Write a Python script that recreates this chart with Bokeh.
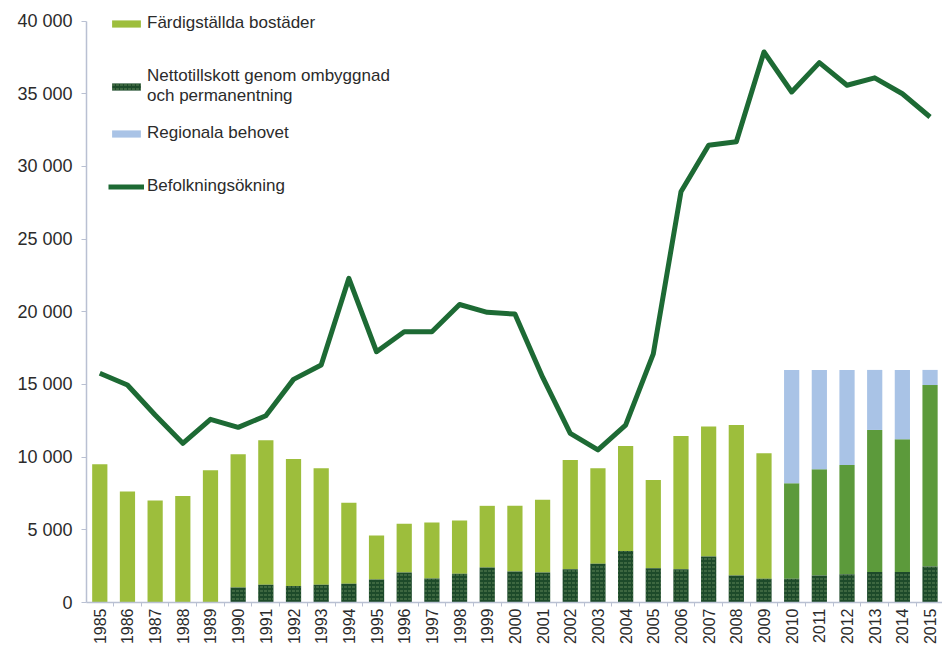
from bokeh.plotting import figure
from bokeh.models import ColumnDataSource, Range1d, FixedTicker, Legend, LegendItem
from bokeh.embed import file_html
from bokeh.resources import INLINE

years = list(range(1985, 2016))
year_labels = [str(y) for y in years]

# Nettotillskott genom ombyggnad och permanentning (dark bottom segment)
netto = [0, 0, 0, 0, 0, 1030, 1220, 1130, 1220, 1290, 1580, 2060, 1650, 1970, 2410,
         2130, 2060, 2290, 2660, 3550, 2360, 2290, 3160, 1860, 1630,
         1630, 1860, 1950, 2090, 2090, 2470]
# Färdigställda bostäder (green segment above)
fardig = [9510, 7630, 7010, 7330, 9100, 9170, 9940, 8750, 8020, 5580, 3030, 3350, 3850, 3670, 4240,
          4520, 5000, 7520, 6580, 7220, 6070, 9170, 8940, 10350, 8640,
          6570, 7310, 7510, 9780, 9140, 12490]
# Regionala behovet (2010-2015)
reg_years = [2010, 2011, 2012, 2013, 2014, 2015]
regional = [16000, 16000, 16000, 16000, 16000, 16000]
# Befolkningsökning
befolkning = [15770, 14960, 12900, 10950, 12600, 12050, 12850, 15350, 16340, 22300,
              17250, 18630, 18630, 20500, 19960, 19840, 15500, 11640, 10500, 12200,
              17100, 28250, 31450, 31700, 37870, 35120, 37140, 35580, 36090, 35000, 33400]

y_ticks = [0, 5000, 10000, 15000, 20000, 25000, 30000, 35000, 40000]

FONT = "Liberation Sans"
TXT = "#2b2b2b"
AX = "#b9c0d2"

split = years.index(2010)
top_all = [n + f for n, f in zip(netto, fardig)]

src_old = ColumnDataSource(dict(x=years[:split], bottom=netto[:split], top=top_all[:split]))
src_new = ColumnDataSource(dict(x=years[split:], bottom=netto[split:], top=top_all[split:]))
src_net = ColumnDataSource(dict(x=years, top=netto))
src_reg = ColumnDataSource(dict(x=reg_years, bottom=top_all[split:], top=regional))
src_line = ColumnDataSource(dict(x=years, y=befolkning))

p = figure(width=942, height=647, output_backend="svg", toolbar_location=None,
           x_range=Range1d(1984.52, 2015.45), y_range=Range1d(0, 41000),
           min_border_left=86, min_border_right=0, min_border_top=6, min_border_bottom=0)

W = 0.55
r_fard = p.vbar(x="x", bottom="bottom", top="top", width=W, source=src_old,
                fill_color="#9dbe3c", line_color=None)
p.vbar(x="x", bottom="bottom", top="top", width=W, source=src_new,
       fill_color="#5c9a3b", line_color=None)
r_net = p.vbar(x="x", top="top", width=W, source=src_net,
               fill_color="#1d4a2a", line_color=None,
               hatch_pattern="horizontal_dash", hatch_color="#8fb07a", hatch_scale=4,
               hatch_alpha=0.55, hatch_weight=1)
r_reg = p.vbar(x="x", bottom="bottom", top="top", width=W, source=src_reg,
               fill_color="#a9c3e6", line_color=None)
r_line = p.line(x="x", y="y", source=src_line, line_color="#1d6a34", line_width=5,
                line_join="round")


def make_legend(items, loc):
    lg = Legend(items=items, location=loc)
    lg.margin = 0
    lg.padding = 0
    lg.spacing = 33
    lg.glyph_width = 36
    lg.glyph_height = 9
    lg.label_height = 20
    lg.label_standoff = 3
    lg.label_text_font = FONT
    lg.label_text_font_size = "17px"
    lg.label_text_color = TXT
    lg.background_fill_alpha = 0
    lg.border_line_color = None
    lg.label_text_line_height = 1.15
    return lg


legend_a = make_legend([
    LegendItem(label="Färdigställda bostäder", renderers=[r_fard]),
    LegendItem(label="Nettotillskott genom ombyggnad\noch permanentning", renderers=[r_net]),
], (22, 496))
legend_b = make_legend([
    LegendItem(label="Regionala behovet", renderers=[r_reg]),
    LegendItem(label="Befolkningsökning", renderers=[r_line]),
], (22, 406))
p.add_layout(legend_a)
p.add_layout(legend_b)

p.xgrid.visible = False
p.ygrid.visible = False
p.outline_line_color = None

xa = p.xaxis[0]
xa.ticker = FixedTicker(ticks=years, minor_ticks=[y + 0.5 for y in [1984] + years])
xa.major_label_orientation = 1.5708
xa.major_label_text_font = FONT
xa.major_label_text_font_size = "16px"
xa.major_label_text_color = TXT
xa.major_tick_out = 0
xa.major_tick_in = 0
xa.minor_tick_out = 4
xa.minor_tick_in = 0
xa.minor_tick_line_color = AX
xa.axis_line_color = AX
xa.axis_line_width = 1.5
xa.major_label_standoff = 2

ya = p.yaxis[0]
ya.ticker = FixedTicker(ticks=y_ticks, minor_ticks=[])
ya.bounds = (0, 40000)
ya.major_label_overrides = {t: f"{t:,}".replace(",", " ") for t in y_ticks}
ya.major_label_text_font = FONT
ya.major_label_text_font_size = "18px"
ya.major_label_text_color = TXT
ya.major_tick_out = 5
ya.major_tick_in = 0
ya.major_tick_line_color = AX
ya.axis_line_color = AX
ya.axis_line_width = 1.5
ya.major_label_standoff = 9

open("out.html", "w").write(file_html(p, INLINE))
